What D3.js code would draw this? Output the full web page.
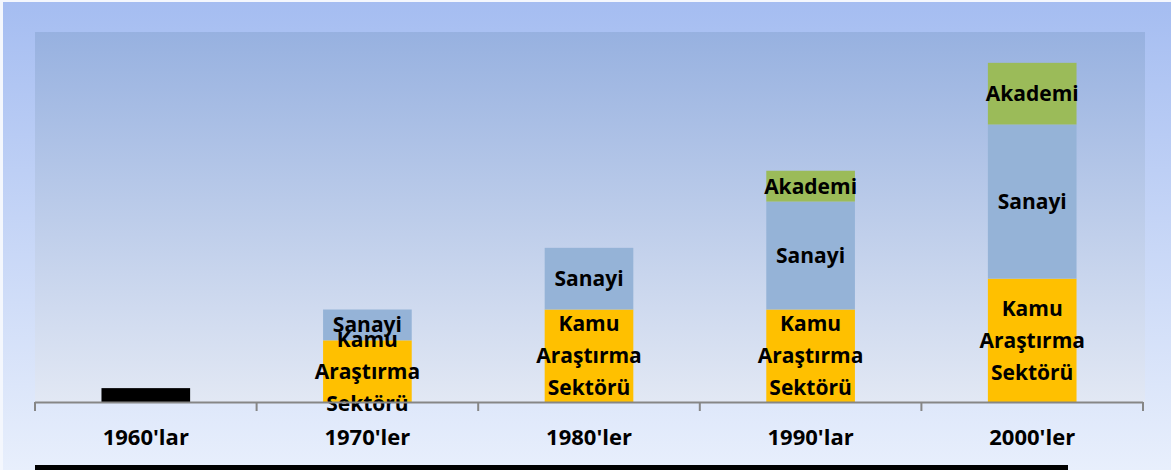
<!DOCTYPE html>
<html><head><meta charset="utf-8">
<script src="https://cdn.jsdelivr.net/npm/d3@7"></script>
<style>html,body{margin:0;padding:0;background:#fff;}svg{display:block;}</style>
</head><body>
<script>
const categories = ["1960'lar","1970'ler","1980'ler","1990'lar","2000'ler"];
const kamu    = [0, 2, 3, 3, 4];
const sanayi  = [0, 1, 2, 3.5, 5];
const akademi = [0, 0, 0, 1, 2];
const early   = [0.45, 0, 0, 0, 0];
const seriesNames = ["early","kamu","sanayi","akademi"];
const seriesLabels = {early:"", kamu:"Kamu\nAraştırma\nSektörü", sanayi:"Sanayi", akademi:"Akademi"};
const colors = {early:"#000000", kamu:"#FFC000", sanayi:"#95B3D7", akademi:"#9BBB59"};

(function(){
const W = 1171, H = 470;
const svg = d3.select("body").append("svg").attr("width", W).attr("height", H);
const defs = svg.append("defs");
const g1 = defs.append("linearGradient").attr("id","outer").attr("x1",0).attr("y1",0).attr("x2",0).attr("y2",1);
g1.append("stop").attr("offset","0%").attr("stop-color","#a5bdf1");
g1.append("stop").attr("offset","100%").attr("stop-color","#e8effc");
const g2 = defs.append("linearGradient").attr("id","plot").attr("x1",0).attr("y1",0).attr("x2",0).attr("y2",1);
g2.append("stop").attr("offset","0%").attr("stop-color","#97b1e0");
g2.append("stop").attr("offset","100%").attr("stop-color","#e2e8f4");

svg.append("rect").attr("x",0).attr("y",0).attr("width",W).attr("height",H).attr("fill","#f4f7fd");
svg.append("rect").attr("x",3).attr("y",2).attr("width",W-3).attr("height",H-2).attr("fill","url(#outer)");

const pLeft = 35, pRight = 1143, pTop = 32, base = 402;
svg.append("rect").attr("x",pLeft).attr("y",pTop).attr("width",1145-pLeft).attr("height",base-pTop).attr("fill","url(#plot)");

const x = d3.scaleBand().domain(categories).range([pLeft,pRight]).paddingInner(0.6).paddingOuter(0.3);
const y = d3.scaleLinear().domain([0,12]).range([base, pTop]);

const data = categories.map((c,i)=>({cat:c, early:early[i], kamu:kamu[i], sanayi:sanayi[i], akademi:akademi[i]}));
const stack = d3.stack().keys(seriesNames)(data);

const font = "'Open Sans', sans-serif";
stack.forEach(layer=>{
  const key = layer.key;
  const gl = svg.append("g");
  gl.selectAll("rect").data(layer.filter(d=>d[1]-d[0]>0)).join("rect")
    .attr("x", d=>x(d.data.cat))
    .attr("width", x.bandwidth())
    .attr("y", d=>y(d[1]))
    .attr("height", d=>y(d[0])-y(d[1]))
    .attr("fill", colors[key]);
});
stack.forEach(layer=>{
  const key = layer.key;
  if(!seriesLabels[key]) return;
  const lines = seriesLabels[key].split("\n");
  layer.filter(d=>d[1]-d[0]>0).forEach(d=>{
    const cx = x(d.data.cat)+x.bandwidth()/2;
    const cy = (y(d[0])+y(d[1]))/2;
    const lh = 32;
    const t = svg.append("text").attr("text-anchor","middle")
      .attr("font-family",font).attr("font-weight","bold").attr("font-size",21).attr("fill","#000");
    lines.forEach((ln,k)=>{
      t.append("tspan").attr("x",cx).attr("y", cy + (k-(lines.length-1)/2)*lh).attr("dy","0.35em").text(ln);
    });
  });
});

// axis
const tickPos = categories.map((c,i)=>pLeft + i*(pRight-pLeft)/categories.length).concat([pRight]);
svg.append("line").attr("x1",pLeft).attr("x2",pRight).attr("y1",base+0.5).attr("y2",base+0.5).attr("stroke","#868686").attr("stroke-width",2);
svg.selectAll("line.tk").data(tickPos).join("line").attr("class","tk")
  .attr("x1",d=>d).attr("x2",d=>d).attr("y1",base).attr("y2",base+9).attr("stroke","#868686").attr("stroke-width",2);
svg.selectAll("text.cat").data(categories).join("text").attr("class","cat")
  .attr("x",d=>x(d)+x.bandwidth()/2).attr("y",437).attr("dy","0.35em")
  .attr("text-anchor","middle").attr("font-family",font).attr("font-weight","bold").attr("font-size",22).attr("fill","#000")
  .text(d=>d);

// bottom black bar
svg.append("rect").attr("x",pLeft).attr("y",465).attr("width",1068-pLeft).attr("height",5).attr("fill","#000");
})();
</script>
</body></html>
